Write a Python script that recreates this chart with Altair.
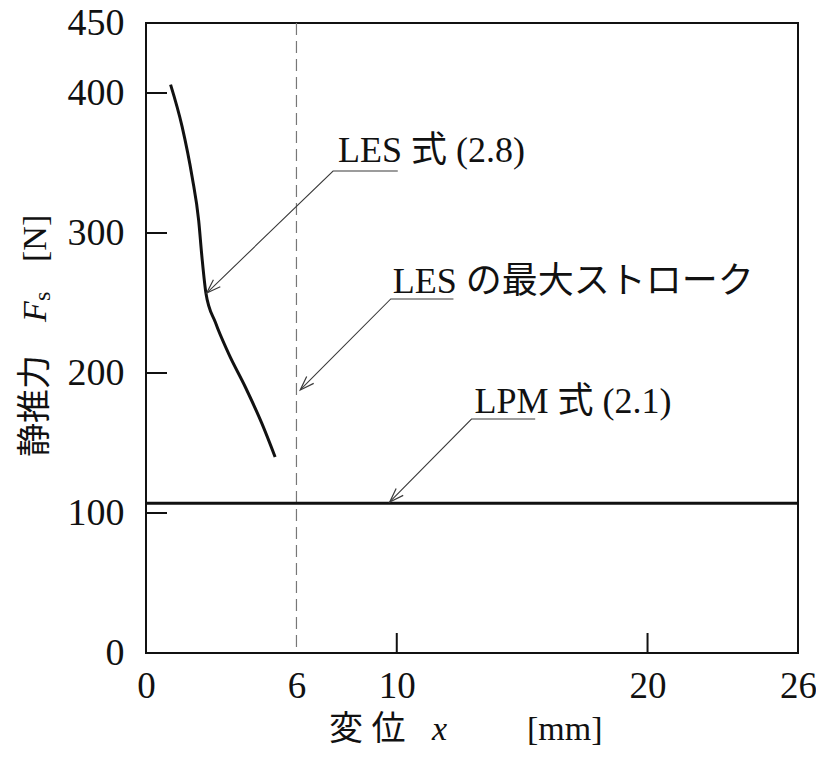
import math
import altair as alt
import pandas as pd

# ---- data ----
les_x = [0.98, 1.44, 1.84, 2.10, 2.23, 2.39, 2.77, 3.29, 3.96, 4.62, 5.15]
les_y = [406, 376, 340, 309, 283, 257, 236, 214, 190, 164, 140]
lpm_x = [0, 26]
lpm_y = [107, 107]
max_stroke = [6]

x_labels = [0, 6, 10, 20, 26]
y_labels = [0, 100, 200, 300, 400, 450]
x_inner_ticks = [10, 20]
y_inner_ticks = [100, 200, 300, 400]

ann_text = ["LES 式  (2.8)", "LES の最大ストローク", "LPM 式  (2.1)"]
ann_tx = [7.66, 9.84, 13.10]      # text start
ann_ty = [350.7, 257.1, 171.4]    # text baseline
ann_ex = [7.46, 9.76, 12.98]      # leader elbow
ann_ey = [344.3, 252.9, 167.1]
ann_rx = [10.04, 12.26, 15.52]    # underline end
ann_px = [2.42, 6.15, 9.72]       # arrow tip
ann_py = [257.1, 187.9, 107.9]

# ---- layout ----
W, H = 652, 630
XMAX, YMAX = 26, 450
SERIF = "Liberation Serif, Noto Sans CJK JP"
INK = "#111111"
GREY = "#3a3a3a"

xs = alt.Scale(domain=[0, XMAX], nice=False, zero=False)
ys = alt.Scale(domain=[0, YMAX], nice=False, zero=False)
xaxis = alt.Axis(values=x_labels, ticks=False, tickSize=0, domain=False, grid=False,
                 labelFont=SERIF, labelFontSize=37, labelColor=INK, labelPadding=44,
                 labelBaseline="alphabetic", labelFlush=False, labelOverlap=False, title=None)
yaxis = alt.Axis(values=y_labels, ticks=False, tickSize=0, domain=False, grid=False,
                 labelFont=SERIF, labelFontSize=38, labelColor=INK, labelPadding=22,
                 labelOverlap=False, labelFlush=False, title=None)


def X(f):
    return alt.X(f, type="quantitative", scale=xs, axis=xaxis)


def Y(f):
    return alt.Y(f, type="quantitative", scale=ys, axis=yaxis)


les_df = pd.DataFrame({"x": les_x, "y": les_y})
lpm_df = pd.DataFrame({"x": lpm_x, "y": lpm_y})

les = alt.Chart(les_df).mark_line(color=INK, strokeWidth=3, interpolate="monotone").encode(x=X("x"), y=Y("y"))
lpm = alt.Chart(lpm_df).mark_line(color=INK, strokeWidth=3).encode(x=X("x"), y=Y("y"))
dash = alt.Chart(pd.DataFrame({"x": max_stroke})).mark_rule(
    color="#777777", strokeWidth=1.2, strokeDash=[12, 6]).encode(x=X("x"))

yt = alt.Chart(pd.DataFrame({"y": y_inner_ticks})).mark_rule(color=INK, strokeWidth=2).encode(
    y=Y("y"), x=alt.value(0), x2=alt.value(21))
xt = alt.Chart(pd.DataFrame({"x": x_inner_ticks})).mark_rule(color=INK, strokeWidth=2).encode(
    x=X("x"), y=alt.value(H), y2=alt.value(H - 20))

# leaders
rows = []
for i in range(len(ann_text)):
    rows.append({"id": i, "o": 0, "x": ann_rx[i], "y": ann_ey[i]})
    rows.append({"id": i, "o": 1, "x": ann_ex[i], "y": ann_ey[i]})
    rows.append({"id": i, "o": 2, "x": ann_px[i], "y": ann_py[i]})
lead = alt.Chart(pd.DataFrame(rows)).mark_line(color=GREY, strokeWidth=1.1).encode(
    x=X("x"), y=Y("y"), detail="id:N", order="o:Q")

sx, sy = W / XMAX, H / YMAX
angs = []
for i in range(len(ann_text)):
    dx = (ann_px[i] - ann_ex[i]) * sx
    dy = -(ann_py[i] - ann_ey[i]) * sy
    angs.append(math.degrees(math.atan2(dx, -dy)) % 360)
heads = alt.Chart(pd.DataFrame({"x": ann_px, "y": ann_py, "a": angs})).mark_point(
    shape="M -0.35 1 L 0 0 L 0.35 1", filled=False, size=800, color=GREY,
    strokeWidth=1.2, opacity=1).encode(x=X("x"), y=Y("y"), angle=alt.Angle("a:Q", scale=None))

labels = alt.Chart(pd.DataFrame({"x": ann_tx, "y": ann_ty, "t": ann_text})).mark_text(
    align="left", baseline="alphabetic", font=SERIF, fontSize=36, color=INK).encode(
    x=X("x"), y=Y("y"), text="t:N")


def piece(txt, px, py, size=34, style="normal", angle=0):
    return alt.Chart(pd.DataFrame({"t": [txt]})).mark_text(
        align="left", baseline="alphabetic", font=SERIF, fontSize=size,
        fontStyle=style, angle=angle, color=INK).encode(
        text="t:N", x=alt.value(px), y=alt.value(py))


titles = [
    piece("変 位", 183, 717),
    piece("x", 286, 717, style="italic"),
    piece("[mm]", 381, 717),
    piece("静推力", -100, 434, angle=270),
    piece("F", -100, 299, style="italic", angle=270),
    piece("s", -96, 278, size=24, angle=270),
    piece("[N]", -100, 239, angle=270),
]

chart = alt.layer(dash, lpm, les, yt, xt, lead, heads, labels, *titles).properties(
    width=W, height=H,
    autosize=alt.AutoSizeParams(type="none"),
    padding={"left": 138, "top": 15, "right": 18, "bottom": 105},
    background="white",
).configure_view(stroke=INK, strokeWidth=2)

chart.save("out.html", embed_options={"renderer": "svg", "actions": False})
